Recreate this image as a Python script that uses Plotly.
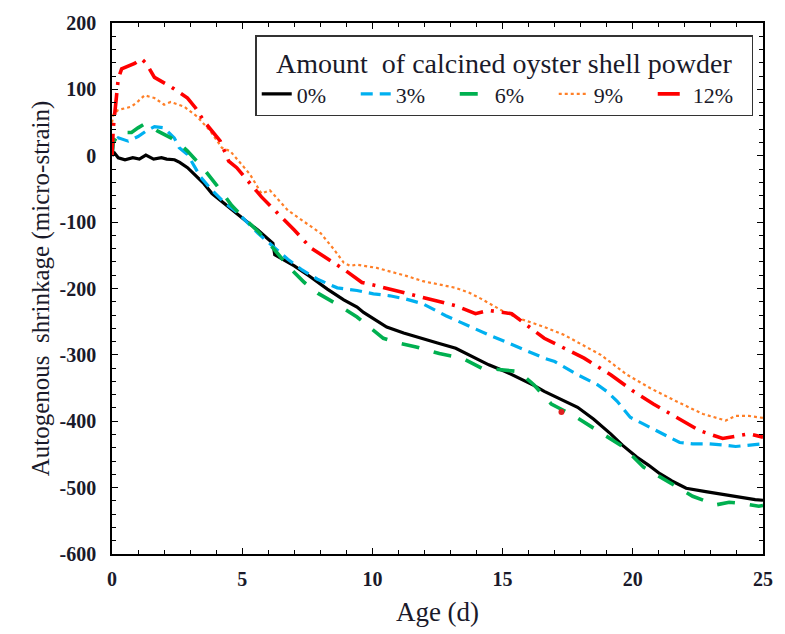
import plotly.graph_objects as go

# 0 %
x0 = [0, 0.1, 0.24, 0.5, 0.8, 1.05, 1.3, 1.6, 1.9, 2.1, 2.4, 2.6, 2.9, 3.2, 3.53, 3.84, 4.3, 4.7, 5.11, 5.6, 6.18, 6.25, 6.5, 7.0, 7.6, 8.27, 8.9, 9.41, 9.66, 10.0, 10.55, 11.2, 11.94, 12.5, 13.2, 13.8, 14.47, 15.1, 15.73, 16.2, 16.6, 17.2, 17.88, 18.5, 19.15, 19.6, 20.15, 20.6, 21.04, 21.5, 22.05, 22.8, 23.57, 24.2, 24.7, 25.0]
y0 = [0, 4, -3, -6, -3, -5, 1, -5, -3, -5, -6, -10, -18, -30, -42, -57, -72, -85, -97, -112, -132, -149, -155, -166, -182, -201, -217, -228, -236, -244, -258, -267, -275, -282, -290, -302, -315, -325, -337, -346, -355, -366, -379, -397, -419, -436, -454, -466, -479, -490, -501, -506, -511, -515, -518, -519]

# 3 %
x3 = [0, 0.05, 0.24, 0.62, 1.0, 1.3, 1.63, 2.0, 2.39, 2.58, 2.9, 3.4, 3.84, 4.3, 4.86, 5.61, 6.2, 6.75, 7.3, 7.89, 8.65, 9.41, 10.04, 10.67, 11.3, 11.94, 12.82, 13.6, 14.47, 15.1, 15.73, 16.6, 17.0, 17.88, 18.64, 19.0, 19.4, 19.9, 20.4, 21.04, 21.8, 22.3, 22.94, 23.5, 23.95, 24.5, 24.96]
y3 = [0, 20, 27, 22, 29, 37, 44, 42, 27, 12, 2, -32, -52, -70, -87, -117, -137, -156, -172, -186, -199, -203, -208, -211, -216, -223, -241, -255, -270, -280, -290, -305, -310, -330, -345, -355, -370, -394, -404, -417, -432, -434, -434, -436, -438, -436, -434]

# 6 %
x6 = [0, 0.05, 0.3, 0.75, 1.0, 1.25, 1.5, 1.76, 2.26, 2.6, 2.9, 3.2, 3.53, 4.03, 4.6, 5.1, 5.61, 6.25, 6.8, 7.39, 7.9, 8.52, 9.41, 10.42, 11.0, 11.68, 12.57, 13.46, 14.2, 14.84, 15.6, 16.2, 16.87, 17.75, 18.77, 19.65, 20.41, 21.42, 22.3, 23.19, 23.7, 24.2, 24.84, 25.0]
y6 = [0, 20, 35, 35, 42, 48, 44, 37, 27, 18, 7, -6, -20, -45, -75, -95, -114, -142, -168, -191, -207, -221, -243, -275, -282, -288, -298, -305, -320, -322, -325, -345, -374, -392, -417, -439, -469, -493, -513, -526, -522, -524, -528, -527]

# 9 %
x9 = [0, 0.05, 0.24, 0.75, 1.0, 1.25, 1.63, 2.0, 2.26, 2.77, 3.27, 3.78, 4.22, 4.54, 5.3, 5.74, 6.06, 6.75, 7.4, 8.02, 8.5, 8.9, 9.15, 9.41, 10.17, 10.67, 11.3, 11.94, 12.6, 13.2, 13.7, 14.2, 15.1, 15.7, 16.24, 16.6, 17.37, 18.1, 18.77, 19.78, 20.66, 21.67, 22.69, 23.57, 23.95, 24.46, 25.0]
y9 = [50, 62, 69, 74, 82, 91, 87, 77, 81, 74, 59, 37, 12, 7, -28, -57, -52, -82, -100, -117, -140, -161, -166, -164, -169, -174, -181, -189, -194, -199, -206, -216, -236, -246, -253, -258, -270, -285, -300, -330, -350, -370, -389, -399, -392, -392, -395]

# 12 %
x12 = [0, 0.05, 0.24, 0.37, 0.87, 1.13, 1.32, 1.63, 2.26, 2.9, 3.21, 3.53, 4.16, 4.48, 4.79, 5.55, 5.74, 7.0, 7.64, 8.9, 9.6, 10.17, 10.67, 11.94, 13.2, 13.96, 14.47, 15.35, 16.1, 16.6, 17.37, 18.13, 19.15, 20.03, 20.79, 21.67, 22.56, 23.45, 23.95, 24.46, 25.0]
y12 = [0, 42, 116, 131, 139, 146, 139, 118, 104, 87, 72, 52, 22, -8, -18, -52, -62, -112, -139, -171, -191, -196, -201, -213, -226, -238, -233, -238, -261, -275, -290, -305, -330, -355, -374, -394, -414, -426, -422, -419, -424]

stray_x = [17.26]
stray_y = [-386]

y_tickvals = [200, 100, 0, -100, -200, -300, -400, -500, -600]
y_ticktext = ["200", "100", "0", "-100", "-200", "-300", "-400", "-500", "-600"]
x_tickvals = [0, 5, 10, 15, 20, 25]
x_ticktext = ["0", "5", "10", "15", "20", "25"]

series = [
    ("0%", x0, y0, "#000000", "solid", 3.2),
    ("3%", x3, y3, "#00b0f0", "12px,7px", 3.2),
    ("6%", x6, y6, "#00b050", "18px,15px", 3.6),
    ("9%", x9, y9, "#ff7f27", "3px,3px", 2.2),
    ("12%", x12, y12, "#ff0000", "22px,8px,3px,8px", 3.6),
]

FONT = "'Liberation Serif', 'Times New Roman', serif"
TXT = "#1a1a2a"
fig = go.Figure()
for name, xs, ys, col, dash, w in series:
    fig.add_trace(go.Scatter(x=xs, y=ys, mode="lines", name=name,
                             line=dict(color=col, dash=dash, width=w)))
fig.add_trace(go.Scatter(x=stray_x, y=stray_y, mode="markers", showlegend=False,
                         marker=dict(color="#e02020", size=6)))

axis_common = dict(
    showgrid=False, zeroline=False, showline=True, linecolor="#000000", linewidth=1.5,
    mirror="ticks", ticks="inside", ticklen=6, tickwidth=1.3, tickcolor="#000000",
    tickfont=dict(family=FONT, size=20, color=TXT, weight="bold"),
)
fig.update_xaxes(range=[0, 25], tickmode="array", tickvals=x_tickvals, ticktext=x_ticktext,
                 ticklabelstandoff=6,
                 minor=dict(ticks="inside", ticklen=4, dtick=1, tick0=0, tickcolor="#000000"),
                 title=dict(text="Age (d)", font=dict(family=FONT, size=27, color=TXT), standoff=13),
                 **axis_common)
fig.update_yaxes(range=[-600, 200], tickmode="array", tickvals=y_tickvals, ticktext=y_ticktext,
                 ticklabelstandoff=10,
                 minor=dict(ticks="inside", ticklen=4, dtick=20, tick0=0, tickcolor="#000000"),
                 title=dict(text="Autogenous\u00a0 shrinkage (micro-strain)", font=dict(family=FONT, size=25, color=TXT), standoff=3),
                 **axis_common)

fig.update_layout(
    width=785, height=634,
    margin=dict(l=112, r=14, t=17, b=79),
    paper_bgcolor="white", plot_bgcolor="white",
    font=dict(family=FONT, color=TXT),
    legend=dict(
        title=dict(text="Amount\u00a0 of calcined oyster shell powder", side="top center",
                   font=dict(family=FONT, size=28, color=TXT)),
        orientation="h", x=0.985, xanchor="right", y=0.977, yanchor="top",
        bgcolor="white", bordercolor="#333333", borderwidth=1.5,
        font=dict(family=FONT, size=22, color=TXT),
        tracegroupgap=0, itemwidth=30, entrywidth=54,
    ),
)
fig.write_html("out.html")
